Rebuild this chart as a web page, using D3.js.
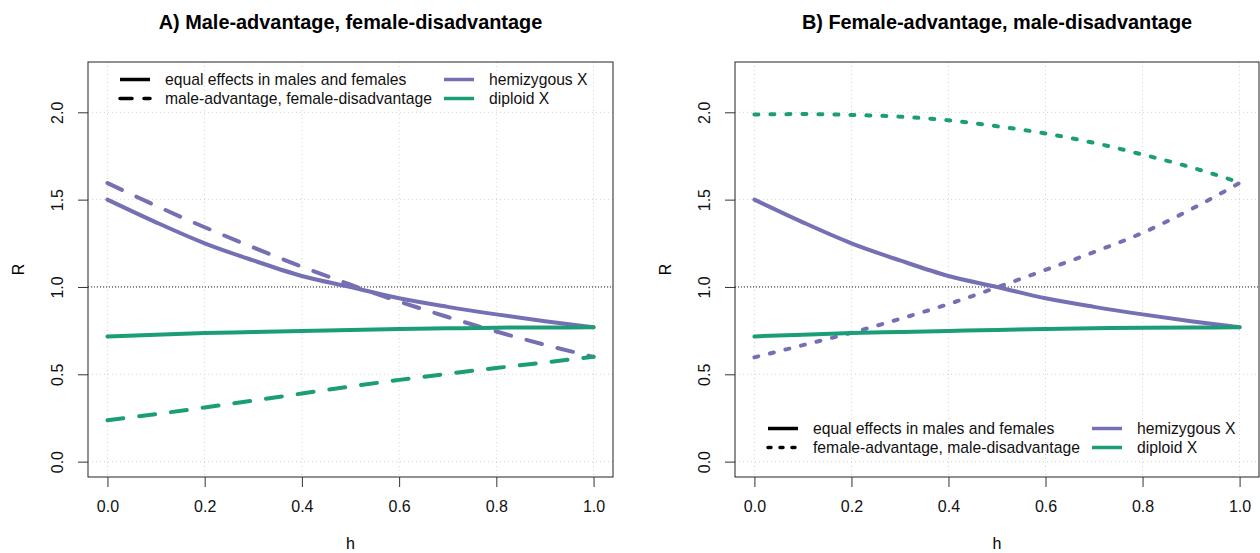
<!DOCTYPE html>
<html>
<head>
<meta charset="utf-8">
<script src="https://cdn.jsdelivr.net/npm/d3@7"></script>
<style>
  body { margin: 0; background: #fff; }
  svg { display: block; font-family: "Liberation Sans", Arial, sans-serif; }
</style>
</head>
<body>
<svg id="chart" width="1260" height="553"></svg>
<script>
(function(){
'use strict';
/* globals d3 */

// x values of every series
var hValues = [0, 0.1, 0.2, 0.3, 0.4, 0.5, 0.6, 0.7, 0.8, 0.9, 1.0];

// equal effects (same in both panels)
var hemiEqual    = [1.500, 1.370, 1.250, 1.152, 1.063, 1.000, 0.935, 0.886, 0.843, 0.804, 0.769];
var diploidEqual = [0.717, 0.727, 0.736, 0.742, 0.748, 0.754, 0.759, 0.763, 0.767, 0.768, 0.769];

// panel A: male-advantage, female-disadvantage
var hemiMaleAdv    = [1.595, 1.465, 1.342, 1.226, 1.116, 1.013, 0.917, 0.828, 0.745, 0.669, 0.600];
var diploidMaleAdv = [0.237, 0.272, 0.310, 0.350, 0.390, 0.430, 0.468, 0.503, 0.536, 0.568, 0.600];

// panel B: female-advantage, male-disadvantage
var hemiFemaleAdv    = [0.597, 0.667, 0.738, 0.817, 0.902, 0.998, 1.098, 1.200, 1.310, 1.445, 1.595];
var diploidFemaleAdv = [1.987, 1.990, 1.985, 1.975, 1.954, 1.920, 1.879, 1.825, 1.758, 1.685, 1.598];

var xTicks = [0, 0.2, 0.4, 0.6, 0.8, 1.0];
var yTicks = [0, 0.5, 1.0, 1.5, 2.0];

var legendLabels = ['equal effects in males and females', 'hemizygous X', 'diploid X'];

var colors = { hemi: '#7570B3', diploid: '#1B9E77' };

var svg = d3.select('#chart');

/**
 * Draws one panel (box, grid, axes, curves and legend)
 * @param {Object} opt panel settings
 */
function drawPanel(opt){
    // R style: 4% padding around the data range
    var x = d3.scaleLinear().domain([-0.04, 1.04]).range([opt.left, opt.right]);
    var y = d3.scaleLinear().domain([-0.088, 2.288]).range([477, 62]);
    var g = svg.append('g');

    // dotted light gray grid
    g.selectAll('line.gx').data(xTicks).enter().append('line')
        .attr('x1', function(d){ return x(d); })
        .attr('x2', function(d){ return x(d); })
        .attr('y1', 62).attr('y2', 477)
        .attr('stroke', '#d3d3d3').attr('stroke-dasharray', '1,3');
    g.selectAll('line.gy').data(yTicks).enter().append('line')
        .attr('y1', function(d){ return y(d); })
        .attr('y2', function(d){ return y(d); })
        .attr('x1', opt.left).attr('x2', opt.right)
        .attr('stroke', '#d3d3d3').attr('stroke-dasharray', '1,3');

    // R = 1 reference line
    g.append('line')
        .attr('x1', opt.left).attr('x2', opt.right)
        .attr('y1', y(1)).attr('y2', y(1))
        .attr('stroke', '#222').attr('stroke-dasharray', '1,2');

    var line = d3.line()
        .x(function(d, i){ return x(hValues[i]); })
        .y(function(d){ return y(d); })
        .curve(d3.curveMonotoneX);

    var series = [
        { v: opt.hemiAlt,    c: colors.hemi,    dash: opt.dash },
        { v: opt.diploidAlt, c: colors.diploid, dash: opt.dash },
        { v: hemiEqual,      c: colors.hemi,    dash: null },
        { v: diploidEqual,   c: colors.diploid, dash: null }
    ];
    series.forEach(function(s){
        g.append('path')
            .attr('d', line(s.v))
            .attr('fill', 'none')
            .attr('stroke', s.c)
            .attr('stroke-width', 4)
            .attr('stroke-linecap', 'round')
            .attr('stroke-dasharray', s.dash);
    });

    // box
    g.append('rect')
        .attr('x', opt.left).attr('y', 62)
        .attr('width', opt.right - opt.left).attr('height', 477 - 62)
        .attr('fill', 'none').attr('stroke', '#222').attr('stroke-width', 1);

    // x axis
    var xAxis = g.append('g').attr('transform', 'translate(0,477)')
        .call(d3.axisBottom(x).tickValues(xTicks).tickSize(10).tickPadding(14)
            .tickFormat(d3.format('.1f')));
    xAxis.select('.domain').remove();

    // y axis with rotated labels
    var yAxis = g.append('g').attr('transform', 'translate(' + opt.left + ',0)')
        .call(d3.axisLeft(y).tickValues(yTicks).tickSize(10).tickFormat(d3.format('.1f')));
    yAxis.select('.domain').remove();
    yAxis.selectAll('text')
        .attr('x', null).attr('dy', null)
        .attr('text-anchor', 'middle')
        .attr('transform', 'translate(-25,0) rotate(-90)');

    [xAxis, yAxis].forEach(function(a){
        a.selectAll('line').attr('stroke', '#333');
        a.selectAll('text').attr('font-size', 16).attr('fill', '#111')
            .attr('font-family', '"Liberation Sans", Arial, sans-serif');
    });

    var mid = (opt.left + opt.right) / 2;
    g.append('text').attr('x', mid).attr('y', 29)
        .attr('text-anchor', 'middle').attr('font-size', 19.9).attr('font-weight', 'bold')
        .text(opt.title);
    g.append('text').attr('x', mid).attr('y', 549)
        .attr('text-anchor', 'middle').attr('font-size', 16).text('h');
    g.append('text')
        .attr('transform', 'translate(' + (opt.left - 64) + ',269.5) rotate(-90)')
        .attr('text-anchor', 'middle').attr('font-size', 16).text('R');

    // legend
    var lg = opt.legend;
    var rows = [
        { x: lg.x1, y: lg.y1, c: '#000', dash: null, label: legendLabels[0] },
        { x: lg.x1, y: lg.y2, c: '#000', dash: opt.legendDash, label: opt.altLabel },
        { x: lg.x2, y: lg.y1, c: colors.hemi, dash: null, label: legendLabels[1] },
        { x: lg.x2, y: lg.y2, c: colors.diploid, dash: null, label: legendLabels[2] }
    ];
    rows.forEach(function(r){
        g.append('line')
            .attr('x1', r.x).attr('x2', r.x + 30)
            .attr('y1', r.y).attr('y2', r.y)
            .attr('stroke', r.c).attr('stroke-width', 3.5)
            .attr('stroke-linecap', r.dash ? 'round' : 'butt')
            .attr('stroke-dasharray', r.dash);
        g.append('text')
            .attr('x', r.x + 45).attr('y', r.y + 5.5)
            .attr('font-size', 15.7).attr('fill', '#111')
            .text(r.label);
    });
}

drawPanel({
    left: 88, right: 613,
    title: 'A) Male-advantage, female-disadvantage',
    hemiAlt: hemiMaleAdv, diploidAlt: diploidMaleAdv,
    dash: '16,16', legendDash: '12,12',
    altLabel: 'male-advantage, female-disadvantage',
    legend: { x1: 120, x2: 444, y1: 79.5, y2: 98.5 }
});

drawPanel({
    left: 735, right: 1259,
    title: 'B) Female-advantage, male-disadvantage',
    hemiAlt: hemiFemaleAdv, diploidAlt: diploidFemaleAdv,
    dash: '4,12', legendDash: '3,9',
    altLabel: 'female-advantage, male-disadvantage',
    legend: { x1: 768, x2: 1092, y1: 428.5, y2: 447.5 }
});

})();
</script>
</body>
</html>
